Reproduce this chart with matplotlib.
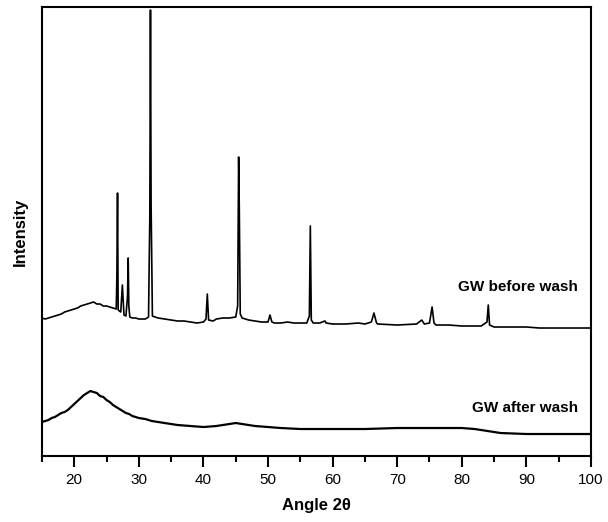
import matplotlib
matplotlib.use('Agg')
import matplotlib.pyplot as plt
from matplotlib.ticker import MultipleLocator

plt.rcParams['font.family'] = ['Liberation Sans', 'DejaVu Sans']

# GW before wash: 2theta [deg], intensity [a.u.]
before_angle = [15, 15.5, 16, 16.5, 17, 17.5, 18, 18.5, 19, 19.5, 20, 20.5, 21, 21.5,
                22, 22.5, 23, 23.5, 24, 24.5, 25, 25.5, 26, 26.5, 26.6, 26.7, 26.8,
                27.2, 27.45, 27.7, 28.0, 28.25, 28.35, 28.45, 28.6, 29, 29.5, 30, 30.5,
                31, 31.5, 31.7, 31.8, 31.9, 32.1, 32.5, 33, 34, 35, 36, 37, 38, 39, 40,
                40.4, 40.6, 40.8, 41.5, 42, 43, 44, 45, 45.3, 45.45, 45.55, 45.7, 46,
                47, 48, 49, 50, 50.3, 50.6, 51, 52, 53, 54, 55, 56, 56.4, 56.55, 56.7,
                57, 58, 58.8, 59, 60, 62, 64, 65, 66, 66.4, 66.8, 67, 70, 73, 73.8,
                74.2, 75, 75.4, 75.7, 76, 78, 80, 83, 83.9, 84.1, 84.3, 85, 88, 90,
                92, 95, 98, 100]
before_int = [138, 137, 138, 139, 140, 141, 142, 144, 145, 146, 147, 148, 150, 151,
              152, 153, 154, 152, 152, 150, 150, 149, 148, 147, 180, 263, 146,
              144, 171, 141, 140, 160, 198, 150, 139, 138, 138, 137, 137,
              137, 139, 240, 446, 250, 140, 139, 138, 137, 136, 135, 135, 134, 133, 134,
              137, 162, 136, 135, 137, 138, 138, 139, 150, 299, 250, 142, 138,
              136, 135, 134, 134, 141, 134, 133, 133, 134, 133, 133, 133, 140, 230, 136,
              133, 133, 135, 133, 132, 132, 133, 132, 134, 143, 133, 132, 131, 132, 136,
              132, 133, 149, 133, 131, 131, 130, 130, 134, 151, 131, 129, 129, 129,
              128, 128, 128, 128]

# GW after wash
after_angle = [15, 15.5, 16, 16.5, 17, 17.5, 18, 18.5, 19, 19.5, 20, 20.5, 21, 21.5,
               22, 22.5, 23, 23.5, 24, 24.5, 25, 25.5, 26, 26.5, 27, 27.5, 28, 28.5,
               29, 30, 31, 32, 33, 34, 35, 36, 38, 40, 42, 44, 45, 46, 48, 50, 52,
               55, 60, 65, 70, 75, 80, 82, 84, 86, 90, 95, 100]
after_int = [34, 35, 36, 38, 39, 41, 43, 44, 46, 49, 52, 55, 58, 61, 63, 65, 64, 63,
             60, 59, 56, 54, 51, 49, 47, 45, 43, 42, 40, 38, 37, 35, 34, 33, 32, 31,
             30, 29, 30, 32, 33, 32, 30, 29, 28, 27, 27, 27, 28, 28, 28, 27, 25, 23,
             22, 22, 22]

fig = plt.figure(figsize=(6.08, 5.22), dpi=100)
ax = fig.add_axes([0.069, 0.1264, 0.903, 0.8602])

ax.plot(before_angle, before_int, color='black', linewidth=1.2)
ax.plot(after_angle, after_int, color='black', linewidth=1.6)

ax.text(98, 169, 'GW before wash', ha='right', va='center',
        fontsize=11, fontweight='bold')
ax.text(98, 48, 'GW after wash', ha='right', va='center',
        fontsize=11, fontweight='bold')

ax.set_xlim(15, 100)
ax.set_ylim(0, 449)
ax.xaxis.set_major_locator(MultipleLocator(10))
ax.xaxis.set_minor_locator(MultipleLocator(5))
ax.set_yticks([])
ax.tick_params(axis='x', which='major', direction='out', length=8, width=1.5,
               labelsize=11, pad=4)
ax.tick_params(axis='x', which='minor', direction='out', length=4.5, width=1.5)
for s in ax.spines.values():
    s.set_linewidth(1.5)

ax.set_xlabel('Angle 2θ', fontsize=12, fontweight='bold', labelpad=8)
ax.set_ylabel('Intensity', fontsize=12, fontweight='bold', labelpad=10)

plt.savefig('out.png', dpi=100)
